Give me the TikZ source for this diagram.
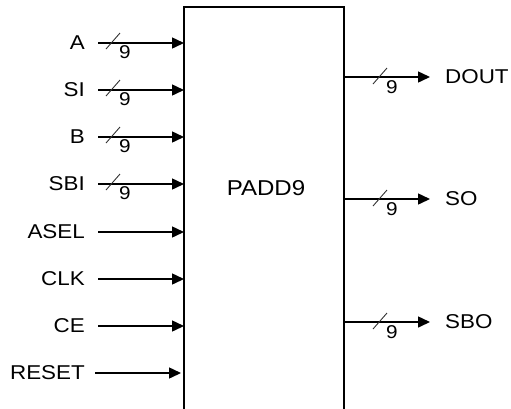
\documentclass[tikz,border=0pt]{standalone}
\usepackage{fontspec}
\setmainfont{Liberation Sans}
\usetikzlibrary{arrows.meta,calc}
\newcommand{\wtxt}[1]{\scalebox{1.12}[1]{#1}}
\tikzset{
  sig/.style={line width=1.5pt,-{Triangle[length=12pt,width=11pt]}},
  lab/.style={inner sep=0pt,font=\fontsize{20}{24}\selectfont},
  ttl/.style={inner sep=0pt,font=\fontsize{21.5}{24}\selectfont},
  busn/.style={inner sep=0pt,font=\fontsize{18.5}{20}\selectfont},
  slash/.style={line width=0.9pt,draw=black!80},
}
\begin{document}
\begin{tikzpicture}[x=1pt,y=-1pt]
\useasboundingbox (0,0) rectangle (511,408);
\draw[line width=1.5pt] (184,420) -- (184,7) -- (344,7) -- (344,420);
\node[ttl] (title) at (266,188) {\wtxt{PADD9}};
% inputs
\foreach \n/\t/\y/\bus in {a/A/43/1,si/SI/90/1,b/B/137/1,sbi/SBI/184/1,asel/ASEL/232/0,clk/CLK/279/0,ce/CE/326/0}{
  \node[lab,anchor=east] (l\n) at (85,\y) {\wtxt{\t}};
  \coordinate (s\n) at (98,\y);
  \coordinate (e\n) at (184,\y);
  \draw[sig] (s\n) -- (e\n);
  \ifnum\bus=1
    \draw[slash] ($(s\n)+(8,6)$) -- ($(s\n)+(22,-10)$);
    \node[busn] (n\n) at ($(s\n)+(27,9)$) {\wtxt{9}};
  \fi
}
\node[lab,anchor=east] (lreset) at (85,373) {\wtxt{RESET}};
\coordinate (sreset) at (95,373);
\coordinate (ereset) at (181,373);
\draw[sig] (sreset) -- (ereset);
% outputs
\foreach \n/\t/\y in {dout/DOUT/77,so/SO/199,sbo/SBO/322}{
  \coordinate (s\n) at (344,\y);
  \coordinate (e\n) at (430,\y);
  \draw[sig] (s\n) -- (e\n);
  \draw[slash] ($(s\n)+(29,7)$) -- ($(s\n)+(43,-9)$);
  \node[busn] (n\n) at ($(s\n)+(48,10)$) {\wtxt{9}};
  \node[lab,anchor=west] (l\n) at (445,\y) {\wtxt{\t}};
}
\end{tikzpicture}
\end{document}
